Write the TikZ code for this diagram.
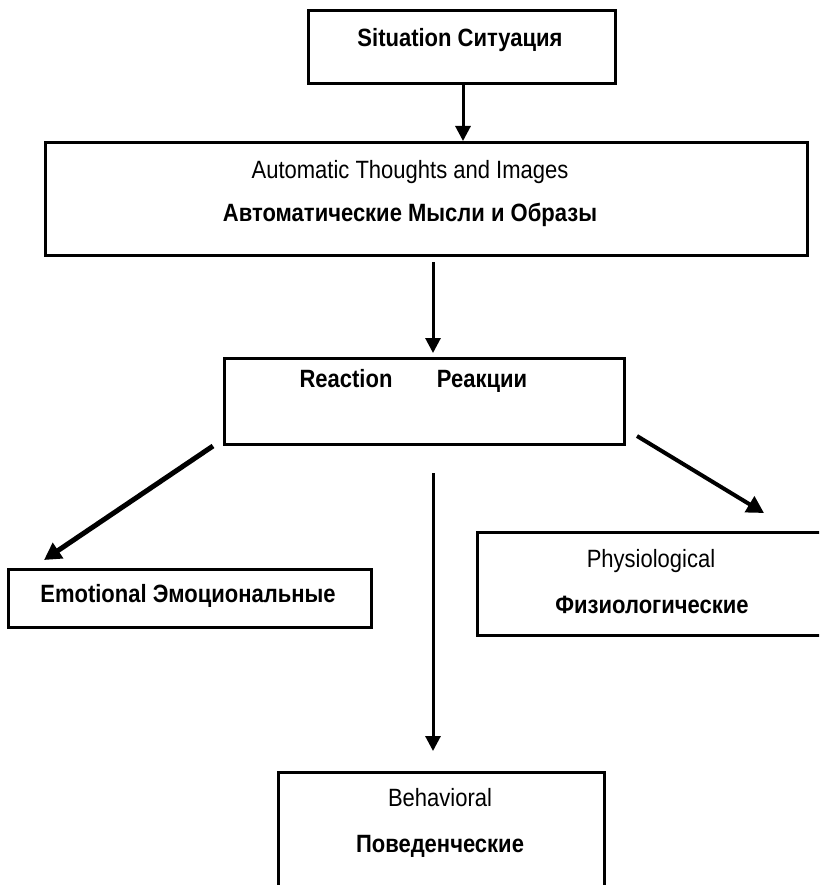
\documentclass[tikz,border=0pt]{standalone}
\usepackage{fontspec}
\setmainfont{Liberation Sans}[FakeStretch=0.88]
\usetikzlibrary{arrows.meta}
\tikzset{
  box/.style={draw=black, line width=2.6pt, inner sep=0pt, anchor=north west},
  lbl/.style={inner sep=0pt, anchor=base, font=\fontsize{25}{29}\selectfont},
  blbl/.style={lbl, font=\fontsize{25}{29}\selectfont\bfseries},
  arr/.style={line width=3pt, -{Triangle[length=15pt,width=15pt]}},
  darr/.style={line width=5pt, -{Triangle[length=17pt,width=18pt]}},
}
\begin{document}
\begin{tikzpicture}[x=1pt,y=-1pt]
\clip (0,0) rectangle (819,885);
\fill[white] (0,0) rectangle (819,885);
% boxes
\node[box, minimum width=307pt, minimum height=73pt] (sit) at (307,9) {};
\node[box, minimum width=762pt, minimum height=113pt] (auto) at (44,141) {};
\node[box, minimum width=400pt, minimum height=86pt] (react) at (223,357) {};
\node[box, minimum width=363pt, minimum height=58pt] (emo) at (7,568) {};
\node[box, minimum width=364pt, minimum height=103pt] (phys) at (476,531) {};
\node[box, minimum width=326pt, minimum height=149pt] (beh) at (277,771) {};
% text
\node[blbl] (tsit) at (460,47) {Situation Ситуация};
\node[lbl] (tauto1) at (410,179) {Automatic Thoughts and Images};
\node[blbl] (tauto2) at (410,222) {Автоматические Мысли и Образы};
\node[blbl] (treact1) at (346,387) {Reaction};
\node[blbl] (treact2) at (482,387) {Реакции};
\node[blbl] (temo) at (188,602) {Emotional Эмоциональные};
\node[lbl] (tphys1) at (651,567) {Physiological};
\node[blbl] (tphys2) at (652,613) {Физиологические};
\node[lbl] (tbeh1) at (440,806) {Behavioral};
\node[blbl] (tbeh2) at (440,852) {Поведенческие};
% connector endpoints
\coordinate (a2s) at (433,262);
\coordinate (a2e) at (433,353);
\coordinate (a3s) at (213,446);
\coordinate (a3e) at (44,560);
\coordinate (a4s) at (637,436);
\coordinate (a4e) at (764,513);
\coordinate (a5s) at (433,473);
\coordinate (a5e) at (433,751);
\draw[arr] (sit.south -| 463,0) -- (auto.north -| 463,0);
\draw[arr] (a2s) -- (a2e);
\draw[darr] (a3s) -- (a3e);
\draw[darr,line width=4pt] (a4s) -- (a4e);
\draw[arr] (a5s) -- (a5e);
\end{tikzpicture}
\end{document}
